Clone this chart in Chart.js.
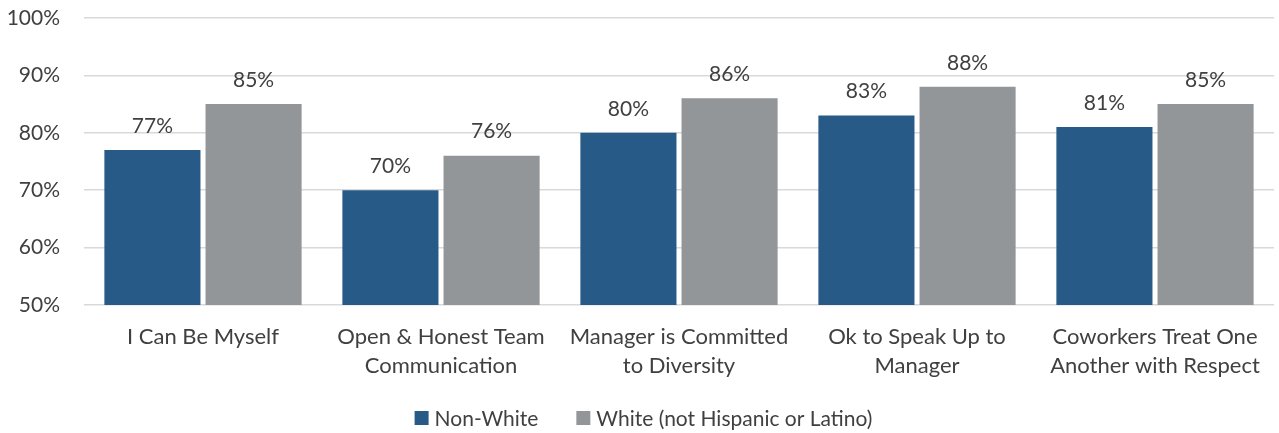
<!DOCTYPE html>
<html>
<head>
<meta charset="utf-8">
<script src="https://cdn.jsdelivr.net/npm/chart.js@4/dist/chart.umd.min.js"></script>
<style>
  html, body { margin: 0; padding: 0; background: #fff; }
  #wrap { width: 1279px; height: 433px; position: relative; }
</style>
</head>
<body>
<div id="wrap"><canvas id="chart"></canvas></div>
<script>
const categories = [
  ['I Can Be Myself'],
  ['Open & Honest Team', 'Communication'],
  ['Manager is Committed', 'to Diversity'],
  ['Ok to Speak Up to', 'Manager'],
  ['Coworkers Treat One', 'Another with Respect'],
];
const nonWhite = [77, 70, 80, 83, 81];
const white = [85, 76, 86, 88, 85];
const yTicks = [50, 60, 70, 80, 90, 100];

const FONT = 'Lato, "Open Sans", sans-serif';
const TEXT = '#404040';
const SIZE = 21;

// value labels above each bar
const barLabels = {
  id: 'barLabels',
  afterDatasetsDraw(chart) {
    const { ctx } = chart;
    ctx.save();
    ctx.font = `${SIZE}px ${FONT}`;
    ctx.fillStyle = TEXT;
    ctx.textAlign = 'center';
    ctx.textBaseline = 'middle';
    chart.data.datasets.forEach((ds, i) => {
      chart.getDatasetMeta(i).data.forEach((bar, j) => {
        ctx.fillText(`${ds.data[j]}%`, bar.x, bar.y - 24);
      });
    });
    ctx.restore();
  },
};

// legend drawn by hand: the built-in one can't space items wider than its row padding
const bottomLegend = {
  id: 'bottomLegend',
  afterDraw(chart) {
    const { ctx } = chart;
    const box = 14;
    const gap = 6;
    const spacing = 38;
    const y = 418;
    ctx.save();
    ctx.font = `${SIZE}px ${FONT}`;
    const items = chart.data.datasets.map((ds) => ({
      text: ds.label, color: ds.backgroundColor, w: ctx.measureText(ds.label).width,
    }));
    const total = items.reduce((s, it) => s + box + gap + it.w, 0) + spacing * (items.length - 1);
    let x = chart.width / 2 + 4 - total / 2;
    ctx.textBaseline = 'middle';
    ctx.textAlign = 'left';
    items.forEach((it) => {
      ctx.fillStyle = it.color;
      ctx.fillRect(x, y - box / 2, box, box);
      ctx.fillStyle = TEXT;
      ctx.fillText(it.text, x + box + gap, y + 1);
      x += box + gap + it.w + spacing;
    });
    ctx.restore();
  },
};

new Chart(document.getElementById('chart'), {
  type: 'bar',
  data: {
    labels: categories,
    datasets: [
      {
        label: 'Non-White',
        data: nonWhite,
        backgroundColor: '#285a87',
        categoryPercentage: 0.85,
        barPercentage: 0.95,
      },
      {
        label: 'White (not Hispanic or Latino)',
        data: white,
        backgroundColor: '#929699',
        categoryPercentage: 0.85,
        barPercentage: 0.95,
      },
    ],
  },
  options: {
    responsive: true,
    maintainAspectRatio: false,
    animation: false,
    layout: { padding: { left: 0, right: 5, top: 18, bottom: 44 } },
    plugins: {
      legend: { display: false },
      tooltip: { enabled: false },
    },
    scales: {
      x: {
        grid: { display: false },
        border: { display: false },
        ticks: {
          color: TEXT,
          font: { family: FONT, size: 22, lineHeight: 1.32 },
          padding: 9,
          maxRotation: 0,
          autoSkip: false,
        },
      },
      y: {
        min: 50,
        max: 100,
        border: { display: false },
        grid: { color: '#d9d9d9', lineWidth: 1.5, drawTicks: false },
        afterBuildTicks: (axis) => { axis.ticks = yTicks.map((v) => ({ value: v })); },
        afterFit: (axis) => {
          axis.width = 84;
          // tick padding would otherwise push the plot top down
          axis.paddingTop = 0;
          axis.paddingBottom = 0;
        },
        ticks: {
          color: TEXT,
          font: { family: FONT, size: SIZE },
          padding: 24,
          callback: (v) => `${v}%`,
        },
      },
    },
  },
  plugins: [barLabels, bottomLegend],
});
</script>
</body>
</html>
